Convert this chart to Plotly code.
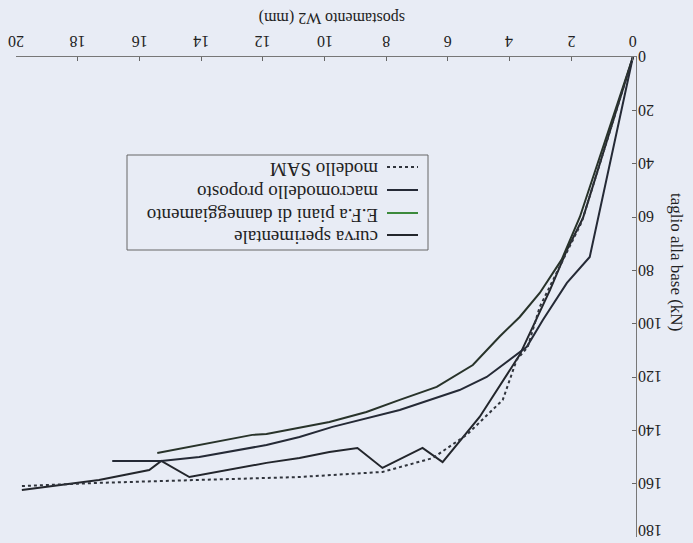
import plotly.graph_objects as go

# ---- data ----
x_sper = [0, 1.62, 2.14, 2.69, 3.67, 4.97, 6.17, 6.82, 8.12, 8.93, 9.84, 10.81, 11.88, 14.38, 15.29, 15.68, 17.31, 19.81]
y_sper = [0, 60.4, 72.4, 87.4, 111.7, 135.0, 151.9, 146.6, 154.1, 146.6, 148.1, 150.4, 152.2, 157.5, 151.5, 154.9, 158.6, 162.4]

x_ef = [0, 1.72, 2.31, 3.02, 3.67, 4.32, 5.19, 6.36, 7.56, 8.64, 9.84, 10.81, 11.88, 12.34, 14.06, 15.42]
y_ef = [0, 60.0, 76.0, 88.5, 97.5, 104.8, 115.5, 123.7, 128.6, 133.1, 136.9, 139.1, 141.4, 141.7, 145.5, 148.5]

x_macro = [0, 1.40, 2.14, 2.92, 3.44, 4.74, 5.62, 7.56, 9.74, 10.81, 11.88, 14.06, 15.29, 16.88]
y_macro = [0, 75.0, 84.7, 98.6, 108.7, 120.0, 124.9, 132.4, 138.7, 142.5, 145.5, 150.0, 151.5, 151.5]

x_sam = [0, 1.66, 3.02, 3.41, 3.77, 4.22, 5.39, 6.49, 8.12, 10.81, 14.06, 17.31, 19.81]
y_sam = [0, 61.9, 93.7, 108.7, 113.6, 128.6, 141.7, 150.4, 155.6, 157.5, 158.6, 159.7, 160.9]

series_names = ["curva sperimentale", "E.F.a piani di danneggiamento",
                "macromodello proposto", "modello SAM"]
x_ticks = list(range(0, 21, 2))
y_ticks = list(range(0, 181, 20))

# ---- styling ----
BG = "#e8ecf5"
FONT = "Liberation Serif"
colors = ["#23262c", "#28332a", "#252a36", "#30343c"]
dashes = ["solid", "solid", "solid", "dot"]

fig = go.Figure()
for xs, ys, c, d, n in zip([x_sper, x_ef, x_macro, x_sam],
                           [y_sper, y_ef, y_macro, y_sam],
                           colors, dashes, series_names):
    fig.add_trace(go.Scatter(x=xs, y=ys, mode="lines", name=n,
                             line=dict(color=c, width=2, dash=d),
                             showlegend=False))

W, H = 693, 543
L, R, T, B = 16, 636, 57, 537


def px(xp):
    return (xp - L) / (R - L)


def py(yp):
    return (B - yp) / (B - T)


TICKFONT = dict(family=FONT, size=16, color="#222")

# tick labels, upside-down as in the scan (placed on the axes' own scales)
for v in x_ticks:
    fig.add_annotation(xref="x", yref="paper", x=v, y=py(41), text=str(v),
                       showarrow=False, textangle=180, xanchor="center",
                       yanchor="middle", font=TICKFONT)
for v in y_ticks:
    w = 8 * len(str(v))
    fig.add_annotation(xref="paper", yref="y", x=px(638 + w / 2), y=v,
                       text=str(v), showarrow=False, textangle=180,
                       xanchor="center", yanchor="middle", font=TICKFONT,
                       yshift=6 if v == y_ticks[-1] else 0)

# legend box (upside-down, as in the scan)
fig.add_shape(type="rect", xref="paper", yref="paper",
              x0=px(127), x1=px(428), y0=py(250), y1=py(155),
              line=dict(color="#666", width=1), fillcolor="rgba(0,0,0,0)")
leg_y = [235, 213, 190, 167]
leg_colors = ["#23262c", "#3c8a3c", "#252a36", "#30343c"]
for name, yy, c, d in zip(series_names, leg_y, leg_colors, dashes):
    fig.add_shape(type="line", xref="paper", yref="paper",
                  x0=px(387), x1=px(418), y0=py(yy), y1=py(yy),
                  line=dict(color=c, width=2, dash=d))
    fig.add_annotation(xref="paper", yref="paper", x=px(380), y=py(yy + 3),
                       text=name, showarrow=False, textangle=180,
                       xanchor="right", yanchor="middle",
                       font=dict(family=FONT, size=19, color="#222"))

# axis titles (upside-down)
fig.add_annotation(xref="paper", yref="paper", x=px(332), y=py(18),
                   text="spostamento W2 (mm)", showarrow=False, textangle=180,
                   xanchor="center", yanchor="middle",
                   font=dict(family=FONT, size=16, color="#222"))
fig.add_annotation(xref="paper", yref="paper", x=px(677), y=py(262),
                   text="taglio alla base (kN)", showarrow=False, textangle=90,
                   xanchor="center", yanchor="middle",
                   font=dict(family=FONT, size=17, color="#222"))

fig.update_layout(
    width=W, height=H,
    paper_bgcolor=BG, plot_bgcolor=BG,
    margin=dict(l=L, r=W - R, t=T, b=H - B, autoexpand=False),
    font=dict(family=FONT, color="#222"),
    xaxis=dict(range=[20, -0.1], side="top", tickvals=x_ticks,
               showticklabels=False,
               ticks="inside", ticklen=4, tickcolor="#666",
               showline=True, linecolor="#777", linewidth=1,
               showgrid=False, zeroline=False, automargin=False),
    yaxis=dict(range=[180, 0], side="right", tickvals=y_ticks,
               showticklabels=False,
               ticks="inside", ticklen=4, tickcolor="#666",
               showline=True, linecolor="#777", linewidth=1,
               showgrid=False, zeroline=False, automargin=False),
)

fig.write_html(
    "out.html",
    config={"displayModeBar": False},
    post_script="document.body.style.margin='0';"
                "document.body.style.background='" + BG + "';",
)
